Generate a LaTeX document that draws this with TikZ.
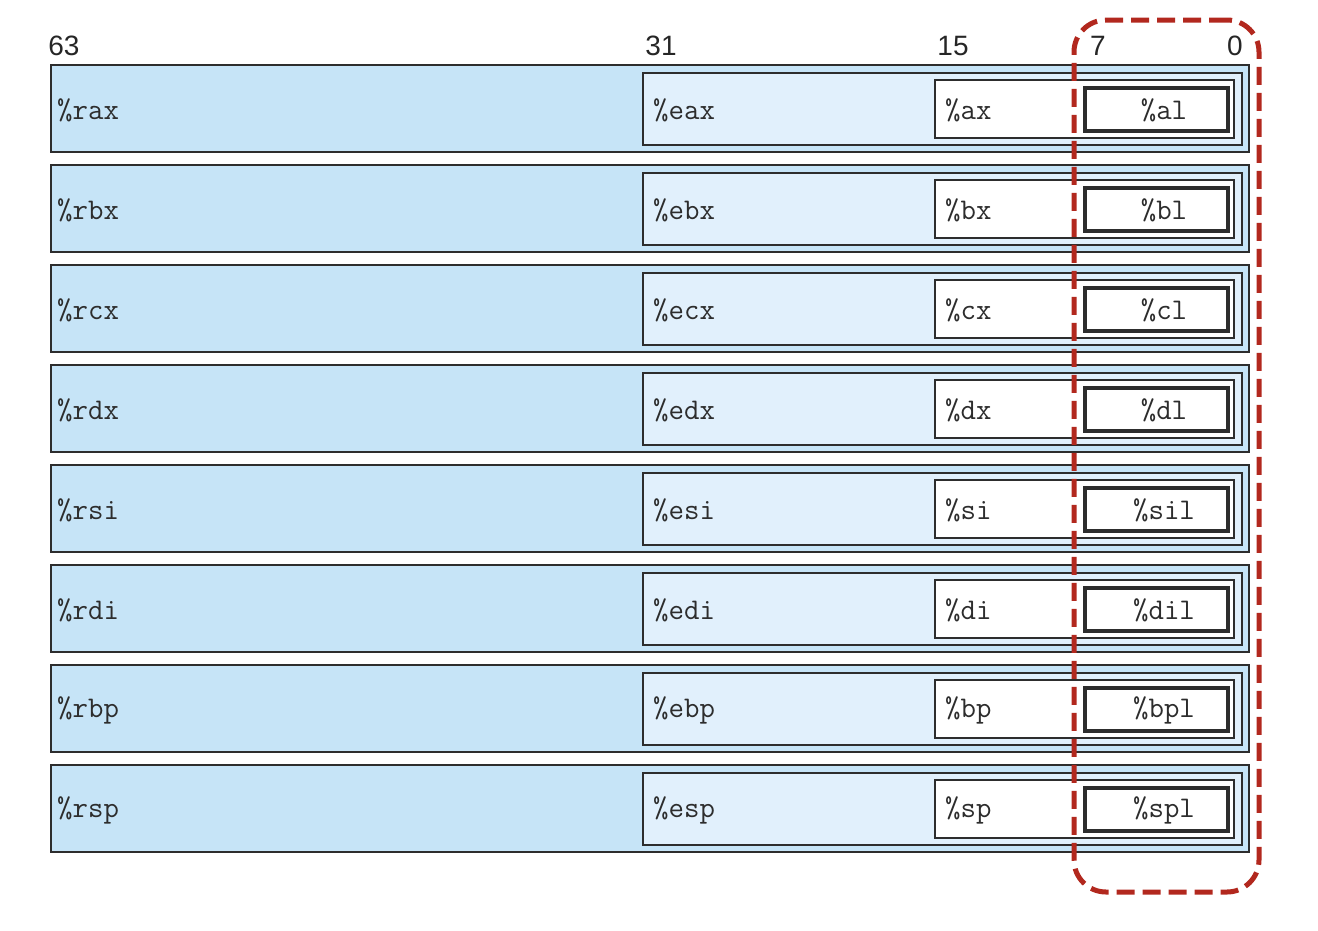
\documentclass[tikz,border=0pt]{standalone}
\usepackage{fontspec}
\newfontfamily\numfont{Liberation Sans}
\definecolor{outerblue}{RGB}{198,228,247}
\definecolor{innerblue}{RGB}{225,240,252}
\definecolor{hlred}{RGB}{178,40,30}
\definecolor{edge}{RGB}{45,45,45}
\tikzset{
  regbox/.style={draw=edge, line width=1.8pt, inner sep=0pt, anchor=north west},
  rbox/.style={regbox, fill=outerblue, minimum width=1198pt, minimum height=87pt},
  ebox/.style={regbox, fill=innerblue, minimum width=599pt, minimum height=72pt},
  xbox/.style={regbox, fill=white, minimum width=299pt, minimum height=58pt},
  lbox/.style={regbox, fill=white, line width=3.6pt, minimum width=143pt, minimum height=43pt},
  regtxt/.style={font=\ttfamily\fontsize{30}{30}\selectfont, text=edge, inner sep=0pt},
  bitlbl/.style={font=\numfont\fontsize{28}{28}\selectfont, text=black!85, inner sep=0pt, anchor=base},
  hlbox/.style={draw=hlred, line width=5pt, rounded corners=32pt, dash pattern=on 18pt off 8pt, minimum width=185pt, minimum height=872pt, inner sep=0pt}
}
\begin{document}
\begin{tikzpicture}[x=1pt,y=-1pt]
\useasboundingbox (0,0) rectangle (1318,930);
\node[bitlbl] (b63) at (64,55) {63};
\node[bitlbl] (b31) at (661,55) {31};
\node[bitlbl] (b15) at (953,55) {15};
\node[bitlbl] (b7) at (1098,55) {7};
\node[bitlbl] (b0) at (1235,55) {0};
\foreach \i/\a/\b/\c/\d in {0/rax/eax/ax/al,1/rbx/ebx/bx/bl,2/rcx/ecx/cx/cl,3/rdx/edx/dx/dl,4/rsi/esi/si/sil,5/rdi/edi/di/dil,6/rbp/ebp/bp/bpl,7/rsp/esp/sp/spl}{
  \pgfmathsetmacro{\t}{64+100*\i}
  \node[rbox] (R\i) at (50,\t) {};
  \node[ebox] (E\i) at (642,\t+8) {};
  \node[xbox] (X\i) at (934,\t+15) {};
  \node[lbox] (L\i) at (1083,\t+22) {};
  \node[regtxt, anchor=west] (tR\i) at (57,\t+46) {\%\a};
  \node[regtxt, anchor=west] (tE\i) at (653,\t+46) {\%\b};
  \node[regtxt, anchor=west] (tX\i) at (945,\t+46) {\%\c};
  \node[regtxt] (tL\i) at (1164,\t+46) {\%\d};
}
\node[hlbox] (hl) at (1166.5,456) {};
\end{tikzpicture}
\end{document}
